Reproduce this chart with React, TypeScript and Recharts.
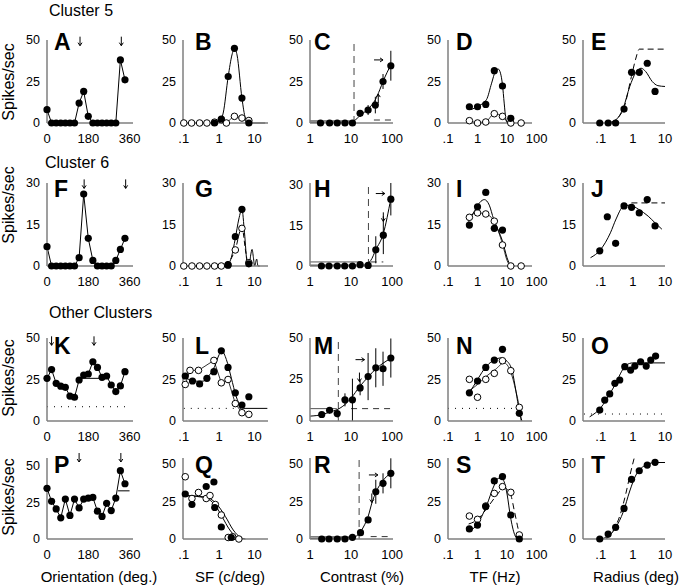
import React from 'react';
import { ComposedChart, Line, Scatter, XAxis, YAxis, ReferenceLine, ErrorBar } from 'recharts';

type Pt = number[];

// ---------- orientation (deg) ----------
const ORI = [0, 20, 40, 60, 80, 100, 120, 140, 160, 180, 200, 220, 240, 260, 280, 300, 320, 340];
const A_y = [8, 0, 0, 0, 0, 0, 0, 12, 19, 4, 0, 0, 0, 0, 0, 0, 38, 26];
const F_y = [7, 0, 0, 0, 0, 0, 0, 3, 26, 10, 2, 0, 0, 0, 0, 2, 6, 10];
const K_y = [25.7, 31, 22.7, 21, 20.3, 15, 14.3, 24.7, 27.7, 28.3, 35.7, 32.3, 26.3, 27.1, 21.7, 17.7, 21.1, 29.7];
const P_y = [34.4, 25.6, 20.4, 14.4, 27.1, 16, 27.1, 21.1, 27.1, 27.8, 28.2, 18.9, 15.3, 24.2, 19.3, 27.8, 46.4, 37.5];
const A_arrows = [144, 324];
const F_arrows = [162, 343];
const K_arrows = [20, 205];
const P_arrows = [140, 322];
const K_dot: Pt[] = [[0, 8.6], [360, 8.6]];
const K_seg: Pt[] = [[140, 25.7], [240, 25.7]];
const P_seg: Pt[] = [[310, 32.7], [360, 32.7]];

// ---------- spatial frequency ----------
const B_filled: Pt[] = [[0.74, 0], [1.15, 2.4], [1.8, 28], [2.7, 45], [4.4, 15], [6.9, 0]];
const B_open: Pt[] = [[0.1, 0], [0.166, 0], [0.28, 0], [0.45, 0], [0.74, 0.5], [1.15, 2], [1.6, 0], [2.7, 4], [4.4, 3], [6.9, 1.5]];
const B_fit: Pt[] = [[0.7, 0], [1, 0.8], [1.3, 6], [1.8, 28], [2.3, 41], [2.7, 45], [3.2, 41], [4.4, 15], [5.5, 3], [6.9, 0], [20, 0]];
const B_fit2: Pt[] = [[0.7, 0], [1.15, 1.5], [1.6, 0.5], [2.7, 4], [4.4, 3], [6.9, 1], [9, 0]];

const G_open: Pt[] = [[0.1, 0], [0.17, 0], [0.28, 0], [0.45, 0], [0.74, 0], [1.15, 0], [1.78, 0.5], [2.86, 5.8], [4.4, 13.6], [6.9, 1.2]];
const G_filled: Pt[] = [[1.78, 0.3], [2.86, 10.6], [4.4, 20.5], [6.9, 0.8]];
const G_fit: Pt[] = [[1.6, 0], [2.2, 3], [2.86, 10], [3.6, 17], [4.4, 20.5], [5.2, 12], [6.2, 1], [7, 0], [7.8, 4], [8.5, 6], [9.3, 3], [10, 0], [11.5, 2.5], [12.5, 0], [14, 0]];
const G_fit2: Pt[] = [[1.6, 0], [2.86, 6], [4.4, 14], [5.5, 6], [6.5, 0]];

const L_filled: Pt[] = [[0.11, 27.1], [0.176, 24.1], [0.28, 22.3], [0.45, 25.7], [0.71, 29.7], [1.15, 42.3], [1.78, 32.3], [2.86, 17], [4.4, 9.6], [6.9, 14.6]];
const L_open: Pt[] = [[0.11, 22], [0.15, 30.5], [0.26, 30.5], [0.71, 36.5], [1.15, 23], [1.78, 25], [2.86, 10.5], [4.4, 5], [6.9, 4]];
const L_fit: Pt[] = [[0.1, 27], [0.2, 24], [0.35, 24], [0.5, 27], [0.75, 33], [1, 40], [1.2, 42], [1.6, 37], [2.2, 26], [3, 15], [4, 9], [5, 7.6], [23, 7.6]];
const L_dot: Pt[] = [[0.1, 7.6], [5, 7.6]];

const Q_filled: Pt[] = [[0.11, 30], [0.17, 23], [0.43, 35], [0.71, 38], [0.75, 21], [1.15, 8], [2.2, 1]];
const Q_open: Pt[] = [[0.11, 41.5], [0.17, 27], [0.26, 31], [0.43, 27], [0.55, 29], [0.78, 23], [1.15, 16], [1.8, 1], [2.4, 1.5], [3.6, 0]];
const Q_fit: Pt[] = [[0.1, 29], [0.3, 28], [0.5, 26.5], [0.8, 22], [1.2, 15], [2, 6], [3, 1.5], [4, 0]];
const Q_fit2: Pt[] = [[0.1, 29], [0.4, 28], [0.8, 24], [1.5, 15], [2.5, 6], [4, 1], [5.5, 0]];

// ---------- contrast (%) : [x, y, err] ----------
const C_filled: Pt[] = [[1.8, 0, 0], [3, 0, 0], [4.6, 0, 0], [7.1, 0, 0], [10.8, 0, 0], [16.6, 5.8, 2], [26, 7.8, 3], [39, 10.8, 5], [60, 25, 4.5], [93, 34.5, 9]];
const C_fit: Pt[] = [[1, 0.5], [8, 0.5], [12, 1.5], [16.6, 4.5], [26, 8.5], [39, 14], [50, 20], [60, 25], [93, 35]];
const C_base: Pt[] = [[1, 1.3], [10, 1.3]];
const C_dash: Pt[] = [[36, 1.8], [100, 1.8]];
const C_c50 = 11.8;

const H_filled: Pt[] = [[1.9, 0, 0], [2.9, 0, 0], [4.6, 0, 0], [7, 0, 0], [10.8, 0, 0], [16.6, 0.5, 0], [26, 0.2, 0], [40, 6, 5], [61, 11.4, 7], [93, 24.7, 6]];
const H_fit: Pt[] = [[1, 0.3], [20, 0.3], [30, 2], [40, 6], [61, 12], [93, 25]];
const H_base: Pt[] = [[1, 1.5], [16, 1.5]];
const H_dash: Pt[] = [[30, 1.5], [61, 1.5]];
const H_c50 = 26.5;

const M_filled: Pt[] = [[1.93, 3, 1.5], [3, 5.6, 2], [4.6, 3.6, 2.5], [7.1, 12, 4], [10.8, 12, 13], [16.6, 19.3, 4.5], [26, 26.3, 14.5], [40, 31.7, 12], [60, 31.1, 10.5], [93, 37.7, 12]];
const M_fit: Pt[] = [[1, 2], [2, 3], [3, 4.5], [4.6, 6], [7, 9], [10, 13], [16, 20], [26, 26], [40, 31], [60, 34.5], [93, 37.5]];
const M_base: Pt[] = [[1, 6.6], [4.5, 6.6]];
const M_dash: Pt[] = [[10, 6.6], [100, 6.6]];
const M_c50 = 4.9;

const R_filled: Pt[] = [[1.93, 0, 0], [2.9, 0, 0], [4.6, 0, 0], [7.1, 0, 0], [10.8, 1.1, 0], [17, 4.2, 1], [26, 12.7, 1.5], [40, 31.5, 8], [60, 37.1, 6.7], [93, 43.8, 10]];
const R_fit: Pt[] = [[1, 0.5], [10, 0.8], [15, 3], [20, 8], [26, 15], [33, 25], [40, 31], [60, 39], [93, 44]];
const R_base: Pt[] = [[1, 1.5], [10, 1.5]];
const R_dash: Pt[] = [[30, 1.6], [100, 1.6]];
const R_c50 = 15.7;

// ---------- temporal frequency (Hz) ----------
const D_filled: Pt[] = [[0.53, 9.8], [1, 9.8], [1.9, 11.2], [3.7, 31.5], [7, 22.3], [13.4, 2.8]];
const D_open: Pt[] = [[0.53, 1.4], [1, 0], [1.9, 0.6], [3.7, 5.6], [7, 4], [13.4, 0], [30, 0]];
const D_fit: Pt[] = [[0.6, 8], [1, 10], [2, 14], [3, 24], [4, 31], [5, 32.5], [6, 30], [7, 23], [8, 12], [9, 3], [10, 0]];
const D_fit2: Pt[] = [[0.53, 1.4], [1, 0.3], [1.9, 0.8], [3.7, 5.6], [7, 4], [10, 1], [13.4, 0]];

const I_filled: Pt[] = [[0.53, 14.8], [1, 21.4], [1.9, 26.6], [3.7, 13.6], [7, 13]];
const I_open: Pt[] = [[0.53, 17.6], [1, 19.2], [1.9, 18.8], [3.7, 16.2], [7, 7.6], [13.4, 0], [30, 0]];
const I_fit: Pt[] = [[0.5, 16], [0.8, 20], [1.2, 23], [1.7, 24], [2.5, 22], [3.5, 17], [5, 13], [7, 9], [10, 3], [13, 0]];
const I_fit2: Pt[] = [[0.5, 18], [1, 19.2], [1.9, 18.8], [3.7, 16], [7, 8], [10, 2], [13, 0]];

const N_filled: Pt[] = [[0.53, 17], [1, 24.1], [1.9, 32.3], [3.7, 36.7], [7, 43.2], [26, 4.6]];
const N_open: Pt[] = [[0.53, 25.1], [1, 14.3], [1.9, 25.1], [3.7, 28.7], [7, 36.3], [13.4, 30.3], [26, 8.2]];
const N_fit: Pt[] = [[0.5, 16], [1, 25], [2, 33], [4, 37], [6, 38], [10, 36], [15, 30], [20, 18], [26, 6], [32, 0]];
const N_fit2: Pt[] = [[0.5, 18], [1, 22], [2, 27], [4, 31], [8, 35], [13, 30], [20, 18], [26, 8], [30, 0]];
const N_dot: Pt[] = [[0.1, 7.6], [30, 7.6]];

const S_filled: Pt[] = [[0.53, 6.7], [1, 9.3], [1.9, 21.6], [3.7, 38.7], [7, 41.6], [13.4, 16], [26, 0]];
const S_open: Pt[] = [[0.53, 15.3], [1, 13.1], [1.9, 22], [3.7, 30.4], [7, 34.9], [13.4, 31.1], [26, 2.7]];
const S_fit: Pt[] = [[0.5, 5], [1, 10], [2, 22], [3.7, 36], [5, 40.5], [7, 40], [10, 30], [13, 15], [18, 3], [22, 0]];
const S_dash: Pt[] = [[0.5, 10], [1, 13], [2, 20], [4, 28], [8, 34], [13, 30], [18, 18], [25, 5], [30, 0]];

// ---------- radius (deg) ----------
const E_filled: Pt[] = [[0.093, 0], [0.17, 0], [0.29, 0], [0.53, 8.4], [0.91, 30.5], [1.58, 30.5], [2.8, 36], [4.9, 19]];
const E_fit: Pt[] = [[0.17, 0], [0.3, 2], [0.5, 9], [0.8, 22], [1.2, 30], [1.8, 33], [2.5, 31], [4, 25], [6, 22.5], [10, 22]];
const E_dash: Pt[] = [[0.2, 0], [0.5, 8], [0.9, 28], [1.2, 38], [1.6, 44.5], [10, 44.5]];

const J_filled: Pt[] = [[0.093, 5.5], [0.16, 17.8], [0.29, 8.2], [0.53, 21.7], [0.91, 21.2], [1.58, 19.2], [2.8, 24], [4.9, 14.5]];
const J_fit: Pt[] = [[0.048, 3], [0.1, 6], [0.2, 12], [0.3, 17], [0.5, 21.5], [0.8, 22], [1.5, 20.5], [3, 18], [5, 15.5], [8, 13.3]];
const J_dash: Pt[] = [[0.9, 22.8], [10, 22.8]];

const O_filled: Pt[] = [[0.093, 6.6], [0.133, 12.6], [0.19, 16.3], [0.275, 22.7], [0.39, 24.7], [0.56, 32.7], [0.85, 30.7], [1.15, 33.1], [1.74, 35.7], [2.6, 33.1], [3.6, 36.7], [5.1, 39.1]];
const O_fit: Pt[] = [[0.045, 2.5], [0.1, 8], [0.2, 17], [0.3, 23], [0.45, 30], [0.6, 33.5], [1, 35], [10, 35]];
const O_dot: Pt[] = [[0.03, 4.2], [10, 4.2]];

const T_filled: Pt[] = [[0.093, 0], [0.17, 3.3], [0.29, 7.8], [0.53, 20.4], [0.91, 39.8], [1.58, 45.5], [2.8, 49.3], [4.9, 51.1]];
const T_fit: Pt[] = [[0.1, 0], [0.2, 3], [0.3, 8], [0.5, 18], [0.8, 32], [1.2, 42], [2, 48], [3, 50], [5, 51], [10, 51]];
const T_dash: Pt[] = [[0.15, 0], [0.25, 6], [0.4, 16], [0.6, 30], [0.8, 42], [1.1, 54]];

// ---------- axes / labels ----------
const X_TICKS = [[0, 180, 360], [0.1, 1, 10], [1, 10, 100], [0.1, 1, 10, 100], [0.1, 1, 10]];
const X_DOMAINS = [[0, 375], [0.095, 24], [1, 105], [0.1, 70], [0.028, 10]];
const Y_TICKS = [[0, 25, 50], [0, 15, 30], [0, 25, 50], [0, 25, 50]];
const Y_DOMAINS = [[0, 50], [0, 30], [0, 50], [0, 54]];
const X_TITLES = ['Orientation (deg.)', 'SF (c/deg)', 'Contrast (%)', 'TF (Hz)', 'Radius (deg)'];
const SECTION_TITLES = ['Cluster 5', 'Cluster 6', 'Other Clusters'];
const Y_TITLE = 'Spikes/sec';

// ---------- layout (pixels) ----------
const COLS = [{ x0: 47, x1: 133 }, { x0: 183, x1: 268 }, { x0: 310, x1: 393 }, { x0: 448, x1: 532 }, { x0: 583, x1: 665 }];
const ROWS = [{ y0: 40, y1: 123 }, { y0: 183, y1: 266 }, { y0: 338, y1: 421 }, { y0: 458, y1: 539 }];
const LETTER_X = [54, 195, 314, 456, 591];
const LETTER_BASE = [50, 197, 354, 473];
const XTITLE_X = [99, 230, 362, 495, 636];
const SECTION_POS = [{ x: 49, y: 16 }, { x: 45, y: 168 }, { x: 49, y: 318 }];
const YTITLE_Y = [82, 205, 378, 497];

const FONT = '"Liberation Sans", Arial, Helvetica, sans-serif';
const AXIS_COLOR = '#7f7f7f';

const toObj = (arr: Pt[]) => arr.map((p) => ({ x: p[0], y: p[1], e: p[2] ?? 0 }));
const zip = (xs: number[], ys: number[]): Pt[] => xs.map((x, i) => [x, ys[i]]);
const atTop = (xs: number[], y: number): Pt[] => xs.map((x) => [x, y]);

type Series = { data: Pt[]; dash?: string; w?: number; color?: string; curve?: 'linear' | 'monotone' };
type PanelDef = {
  letter: string;
  row: number;
  col: number;
  filled?: Pt[];
  open?: Pt[];
  lines?: Series[];
  vlines?: number[];
  down?: Pt[];
  right?: Pt[];
  up?: Pt[];
  err?: boolean;
};

const FilledDot = (p: any) => <circle cx={p.cx} cy={p.cy} r={3.6} fill="#000" />;
const OpenDot = (p: any) => <circle cx={p.cx} cy={p.cy} r={3.3} fill="#fff" stroke="#000" strokeWidth={1} />;
const DownArrow = (p: any) => (
  <path d={`M${p.cx},${p.cy - 5} L${p.cx},${p.cy + 4} M${p.cx - 2},${p.cy + 1} L${p.cx},${p.cy + 4} L${p.cx + 2},${p.cy + 1}`} stroke="#000" strokeWidth={1} fill="none" />
);
const UpArrow = (p: any) => (
  <path d={`M${p.cx},${p.cy + 5} L${p.cx},${p.cy - 4} M${p.cx - 2},${p.cy - 1} L${p.cx},${p.cy - 4} L${p.cx + 2},${p.cy - 1}`} stroke="#000" strokeWidth={1} fill="none" />
);
const RightArrow = (p: any) => (
  <path d={`M${p.cx - 5},${p.cy} L${p.cx + 4},${p.cy} M${p.cx + 1},${p.cy - 2} L${p.cx + 4},${p.cy} L${p.cx + 1},${p.cy + 2}`} stroke="#000" strokeWidth={1} fill="none" />
);

const fmt = (v: number) => (v === 0.1 ? '.1' : String(v));

const PANELS: PanelDef[] = [
  { letter: 'A', row: 0, col: 0, filled: zip(ORI, A_y), lines: [{ data: zip(ORI, A_y), curve: 'linear' }], down: atTop(A_arrows, 49) },
  { letter: 'B', row: 0, col: 1, filled: B_filled, open: B_open, lines: [{ data: B_fit }, { data: B_fit2, w: 0.8 }] },
  { letter: 'C', row: 0, col: 2, filled: C_filled, err: true, lines: [{ data: C_fit }, { data: C_base, color: '#555', curve: 'linear' }, { data: C_dash, dash: '6 5', color: '#333', curve: 'linear' }], vlines: [C_c50], right: [[48, 38]], up: [[46, 15]] },
  { letter: 'D', row: 0, col: 3, filled: D_filled, open: D_open, lines: [{ data: D_fit }, { data: D_fit2, w: 0.8 }] },
  { letter: 'E', row: 0, col: 4, filled: E_filled, lines: [{ data: E_fit }, { data: E_dash, dash: '6 4' }] },

  { letter: 'F', row: 1, col: 0, filled: zip(ORI, F_y), lines: [{ data: zip(ORI, F_y), curve: 'linear' }], down: atTop(F_arrows, 29.5) },
  { letter: 'G', row: 1, col: 1, filled: G_filled, open: G_open, lines: [{ data: G_fit }, { data: G_fit2, dash: '5 3' }] },
  { letter: 'H', row: 1, col: 2, filled: H_filled, err: true, lines: [{ data: H_fit }, { data: H_base, color: '#555', curve: 'linear' }, { data: H_dash, dash: '6 5', color: '#333', curve: 'linear' }], vlines: [H_c50], right: [[53, 26.8]], down: [[61, 18]] },
  { letter: 'I', row: 1, col: 3, filled: I_filled, open: I_open, lines: [{ data: I_fit }, { data: I_fit2, w: 0.8 }] },
  { letter: 'J', row: 1, col: 4, filled: J_filled, lines: [{ data: J_fit }, { data: J_dash, dash: '6 4', curve: 'linear' }] },

  { letter: 'K', row: 2, col: 0, filled: zip(ORI, K_y), lines: [{ data: zip(ORI, K_y), curve: 'linear' }, { data: K_dot, dash: '1 6', curve: 'linear' }, { data: K_seg, curve: 'linear' }], down: atTop(K_arrows, 48) },
  { letter: 'L', row: 2, col: 1, filled: L_filled, open: L_open, lines: [{ data: L_fit }, { data: L_open, w: 0.8, curve: 'linear' }, { data: L_dot, dash: '1 6', curve: 'linear' }] },
  { letter: 'M', row: 2, col: 2, filled: M_filled, err: true, lines: [{ data: M_fit }, { data: M_base, color: '#555', curve: 'linear' }, { data: M_dash, dash: '6 5', color: '#333', curve: 'linear' }], vlines: [M_c50], right: [[17, 36.7]], down: [[16, 25.7]] },
  { letter: 'N', row: 2, col: 3, filled: N_filled, open: N_open, lines: [{ data: N_fit }, { data: N_fit2, w: 0.8 }, { data: N_dot, dash: '1 6', curve: 'linear' }] },
  { letter: 'O', row: 2, col: 4, filled: O_filled, lines: [{ data: O_fit }, { data: O_dot, dash: '1 6', curve: 'linear' }] },

  { letter: 'P', row: 3, col: 0, filled: zip(ORI, P_y), lines: [{ data: zip(ORI, P_y), curve: 'linear' }, { data: P_seg, curve: 'linear' }], down: atTop(P_arrows, 55) },
  { letter: 'Q', row: 3, col: 1, filled: Q_filled, open: Q_open, lines: [{ data: Q_fit }, { data: Q_fit2 }] },
  { letter: 'R', row: 3, col: 2, filled: R_filled, err: true, lines: [{ data: R_fit }, { data: R_base, color: '#555', curve: 'linear' }, { data: R_dash, dash: '6 5', color: '#333', curve: 'linear' }], vlines: [R_c50], right: [[36, 42.7]], down: [[32, 27]] },
  { letter: 'S', row: 3, col: 3, filled: S_filled, open: S_open, lines: [{ data: S_fit }, { data: S_dash, dash: '6 4' }] },
  { letter: 'T', row: 3, col: 4, filled: T_filled, lines: [{ data: T_fit }, { data: T_dash, dash: '6 4' }] },
];

function Panel({ d }: { d: PanelDef }) {
  const c = COLS[d.col];
  const r = ROWS[d.row];
  const pw = c.x1 - c.x0;
  const ph = r.y1 - r.y0;
  const YW = 45, XH = 28, MT = 12, MR = 26;
  const isLog = d.col > 0;
  return (
    <div style={{ position: 'absolute', left: c.x0 - YW, top: r.y0 - MT }}>
      <ComposedChart width={pw + YW + MR} height={ph + MT + XH} margin={{ top: MT, right: MR, bottom: 0, left: 0 }}>
        <XAxis
          type="number"
          dataKey="x"
          scale={isLog ? 'log' : 'linear'}
          domain={X_DOMAINS[d.col]}
          ticks={X_TICKS[d.col]}
          interval={0}
          tickLine={false}
          tickSize={0}
          tickMargin={11}
          height={XH}
          tickFormatter={fmt}
          axisLine={{ stroke: AXIS_COLOR, strokeWidth: 1.5 }}
          tick={{ fontSize: 13, fill: '#000', fontFamily: FONT }}
        />
        <YAxis
          type="number"
          dataKey="y"
          domain={Y_DOMAINS[d.row]}
          ticks={Y_TICKS[d.row]}
          interval={0}
          tickLine={false}
          tickSize={0}
          tickMargin={7}
          width={YW}
          axisLine={{ stroke: AXIS_COLOR, strokeWidth: 1.5 }}
          tick={{ fontSize: 12.5, fill: '#000', fontFamily: FONT }}
        />
        {(d.vlines || []).map((v, i) => (
          <ReferenceLine key={'v' + i} x={v} stroke="#444" strokeWidth={1} strokeDasharray="7 5" />
        ))}
        {(d.lines || []).map((s, i) => (
          <Line
            key={'l' + i}
            data={toObj(s.data)}
            dataKey="y"
            type={s.curve || 'monotone'}
            stroke={s.color || '#000'}
            strokeWidth={s.w || 1}
            strokeDasharray={s.dash}
            dot={false}
            activeDot={false}
            isAnimationActive={false}
            legendType="none"
          />
        ))}
        {d.open && <Scatter data={toObj(d.open)} dataKey="y" shape={OpenDot} isAnimationActive={false} />}
        {d.filled && (
          <Scatter data={toObj(d.filled)} dataKey="y" shape={FilledDot} isAnimationActive={false}>
            {d.err && <ErrorBar dataKey="e" direction="y" width={0} stroke="#000" strokeWidth={1} />}
          </Scatter>
        )}
        {d.down && <Scatter data={toObj(d.down)} dataKey="y" shape={DownArrow} isAnimationActive={false} />}
        {d.up && <Scatter data={toObj(d.up)} dataKey="y" shape={UpArrow} isAnimationActive={false} />}
        {d.right && <Scatter data={toObj(d.right)} dataKey="y" shape={RightArrow} isAnimationActive={false} />}
      </ComposedChart>
    </div>
  );
}

export default function App() {
  return (
    <div style={{ position: 'absolute', left: 0, top: 0, width: 682, height: 586, background: '#fff', overflow: 'hidden' }}>
      {PANELS.map((p) => (
        <Panel key={p.letter} d={p} />
      ))}
      <svg width={682} height={586} style={{ position: 'absolute', left: 0, top: 0, pointerEvents: 'none' }}>
        {SECTION_TITLES.map((t, i) => (
          <text key={t} x={SECTION_POS[i].x} y={SECTION_POS[i].y} fontSize={16} fontFamily={FONT} fill="#000">
            {t}
          </text>
        ))}
        {PANELS.map((p) => (
          <text key={p.letter} x={LETTER_X[p.col]} y={LETTER_BASE[p.row]} fontSize={23} fontWeight="bold" fontFamily={FONT} fill="#000">
            {p.letter}
          </text>
        ))}
        {X_TITLES.map((t, i) => (
          <text key={t} x={XTITLE_X[i]} y={582} fontSize={15} fontFamily={FONT} fill="#000" textAnchor="middle">
            {t}
          </text>
        ))}
        {YTITLE_Y.map((y, i) => (
          <text key={i} x={14} y={y} fontSize={16} fontFamily={FONT} fill="#000" textAnchor="middle" transform={`rotate(-90, 14, ${y})`}>
            {Y_TITLE}
          </text>
        ))}
      </svg>
    </div>
  );
}
